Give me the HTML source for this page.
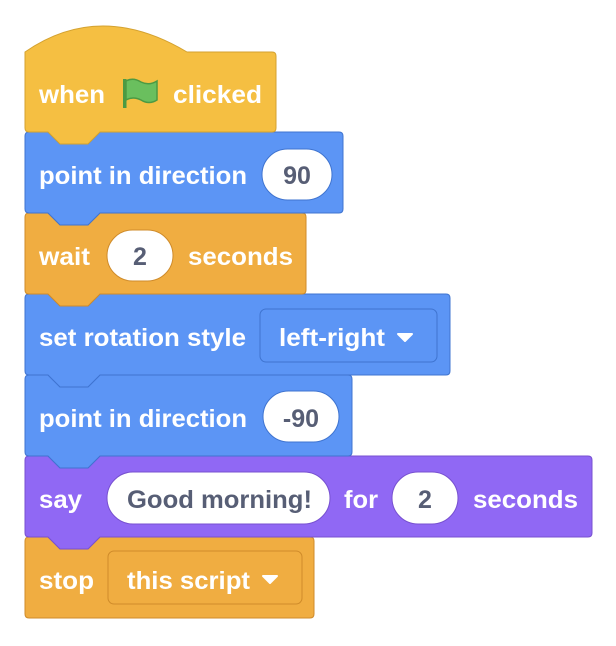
<!DOCTYPE html>
<html><head><meta charset="utf-8"><style>
html,body{margin:0;padding:0;background:#fff;}
svg{display:block;}
text{font-family:"Liberation Sans",Arial,sans-serif;font-weight:bold;font-size:25px;}
.w{fill:#fff;}
.g{fill:#575E75;}
</style></head><body>
<svg width="616" height="646" viewBox="0 0 616 646" xmlns="http://www.w3.org/2000/svg">
<path d="M25,541 Q25,537 29,537 L48,537 L60,549 L88,549 L100,537 L310,537 Q314,537 314,541 L314,614 Q314,618 310,618 L29,618 Q25,618 25,614 Z" fill="#F0AD41" stroke="#CF8B2A" stroke-width="1"/>
<path d="M25,460 Q25,456 29,456 L48,456 L60,468 L88,468 L100,456 L588,456 Q592,456 592,460 L592,533 Q592,537 588,537 L100,537 L88,549 L60,549 L48,537 L29,537 Q25,537 25,533 Z" fill="#9068F4" stroke="#7750D0" stroke-width="1"/>
<path d="M25,379 Q25,375 29,375 L48,375 L60,387 L88,387 L100,375 L348,375 Q352,375 352,379 L352,452 Q352,456 348,456 L100,456 L88,468 L60,468 L48,456 L29,456 Q25,456 25,452 Z" fill="#5C95F5" stroke="#3F74D0" stroke-width="1"/>
<path d="M25,298 Q25,294 29,294 L48,294 L60,306 L88,306 L100,294 L446,294 Q450,294 450,298 L450,371 Q450,375 446,375 L100,375 L88,387 L60,387 L48,375 L29,375 Q25,375 25,371 Z" fill="#5C95F5" stroke="#3F74D0" stroke-width="1"/>
<path d="M25,217 Q25,213 29,213 L48,213 L60,225 L88,225 L100,213 L302,213 Q306,213 306,217 L306,290 Q306,294 302,294 L100,294 L88,306 L60,306 L48,294 L29,294 Q25,294 25,290 Z" fill="#F0AD41" stroke="#CF8B2A" stroke-width="1"/>
<path d="M25,136 Q25,132 29,132 L48,132 L60,144 L88,144 L100,132 L339,132 Q343,132 343,136 L343,209 Q343,213 339,213 L100,213 L88,225 L60,225 L48,213 L29,213 Q25,213 25,209 Z" fill="#5C95F5" stroke="#3F74D0" stroke-width="1"/>
<path d="M25,52 Q100,0 187,52 L272,52 Q276,52 276,56 L276,128 Q276,132 272,132 L100,132 L88,144 L60,144 L48,132 L29,132 Q25,132 25,128 Z" fill="#F5BF42" stroke="#D4A230" stroke-width="1"/>

<text x="39" y="103" class="w" textLength="66" lengthAdjust="spacingAndGlyphs">when</text>
<g>
<rect x="123" y="79" width="3.5" height="29" fill="#4C9A43"/>
<path d="M126,81 Q133,77 141,82 Q149,86 157,81 L157,100 Q149,105 141,100 Q133,96 126,100 Z" fill="#6ABF5E" stroke="#4C9A43" stroke-width="1.5"/>
</g>
<text x="173" y="103" class="w" textLength="89" lengthAdjust="spacingAndGlyphs">clicked</text>

<text x="39" y="184" class="w" textLength="208" lengthAdjust="spacingAndGlyphs">point in direction</text>
<rect x="262" y="149" width="70" height="51" rx="25.5" fill="#fff" stroke="#3F74D0"/>
<text x="297" y="184" class="g" text-anchor="middle">90</text>

<text x="39" y="265" class="w" textLength="51" lengthAdjust="spacingAndGlyphs">wait</text>
<rect x="107" y="230" width="66" height="51" rx="25.5" fill="#fff" stroke="#CF8B2A"/>
<text x="140" y="265" class="g" text-anchor="middle">2</text>
<text x="188" y="265" class="w" textLength="105" lengthAdjust="spacingAndGlyphs">seconds</text>

<text x="39" y="346" class="w" textLength="207" lengthAdjust="spacingAndGlyphs">set rotation style</text>
<rect x="260" y="309" width="177" height="53" rx="6" fill="#5C95F5" stroke="#3F74D0"/>
<text x="279" y="346" class="w" textLength="106" lengthAdjust="spacingAndGlyphs">left-right</text>
<path d="M398,334 L412,334 L405,341 Z" fill="#fff" stroke="#fff" stroke-width="2" stroke-linejoin="round"/>

<text x="39" y="427" class="w" textLength="208" lengthAdjust="spacingAndGlyphs">point in direction</text>
<rect x="263" y="391" width="76" height="51" rx="25.5" fill="#fff" stroke="#3F74D0"/>
<text x="301" y="427" class="g" text-anchor="middle">-90</text>

<text x="39" y="508" class="w" textLength="43" lengthAdjust="spacingAndGlyphs">say</text>
<rect x="107" y="472" width="223" height="52" rx="26" fill="#fff" stroke="#7750D0"/>
<text x="127" y="508" class="g" textLength="185" lengthAdjust="spacingAndGlyphs">Good morning!</text>
<text x="344" y="508" class="w" textLength="34" lengthAdjust="spacingAndGlyphs">for</text>
<rect x="392" y="472" width="66" height="52" rx="26" fill="#fff" stroke="#7750D0"/>
<text x="425" y="508" class="g" text-anchor="middle">2</text>
<text x="473" y="508" class="w" textLength="105" lengthAdjust="spacingAndGlyphs">seconds</text>

<text x="39" y="589" class="w" textLength="55" lengthAdjust="spacingAndGlyphs">stop</text>
<rect x="108" y="551" width="194" height="53" rx="6" fill="#F0AD41" stroke="#CF8B2A"/>
<text x="127" y="589" class="w" textLength="123" lengthAdjust="spacingAndGlyphs">this script</text>
<path d="M263,576 L277,576 L270,583 Z" fill="#fff" stroke="#fff" stroke-width="2" stroke-linejoin="round"/>
</svg>
</body></html>
